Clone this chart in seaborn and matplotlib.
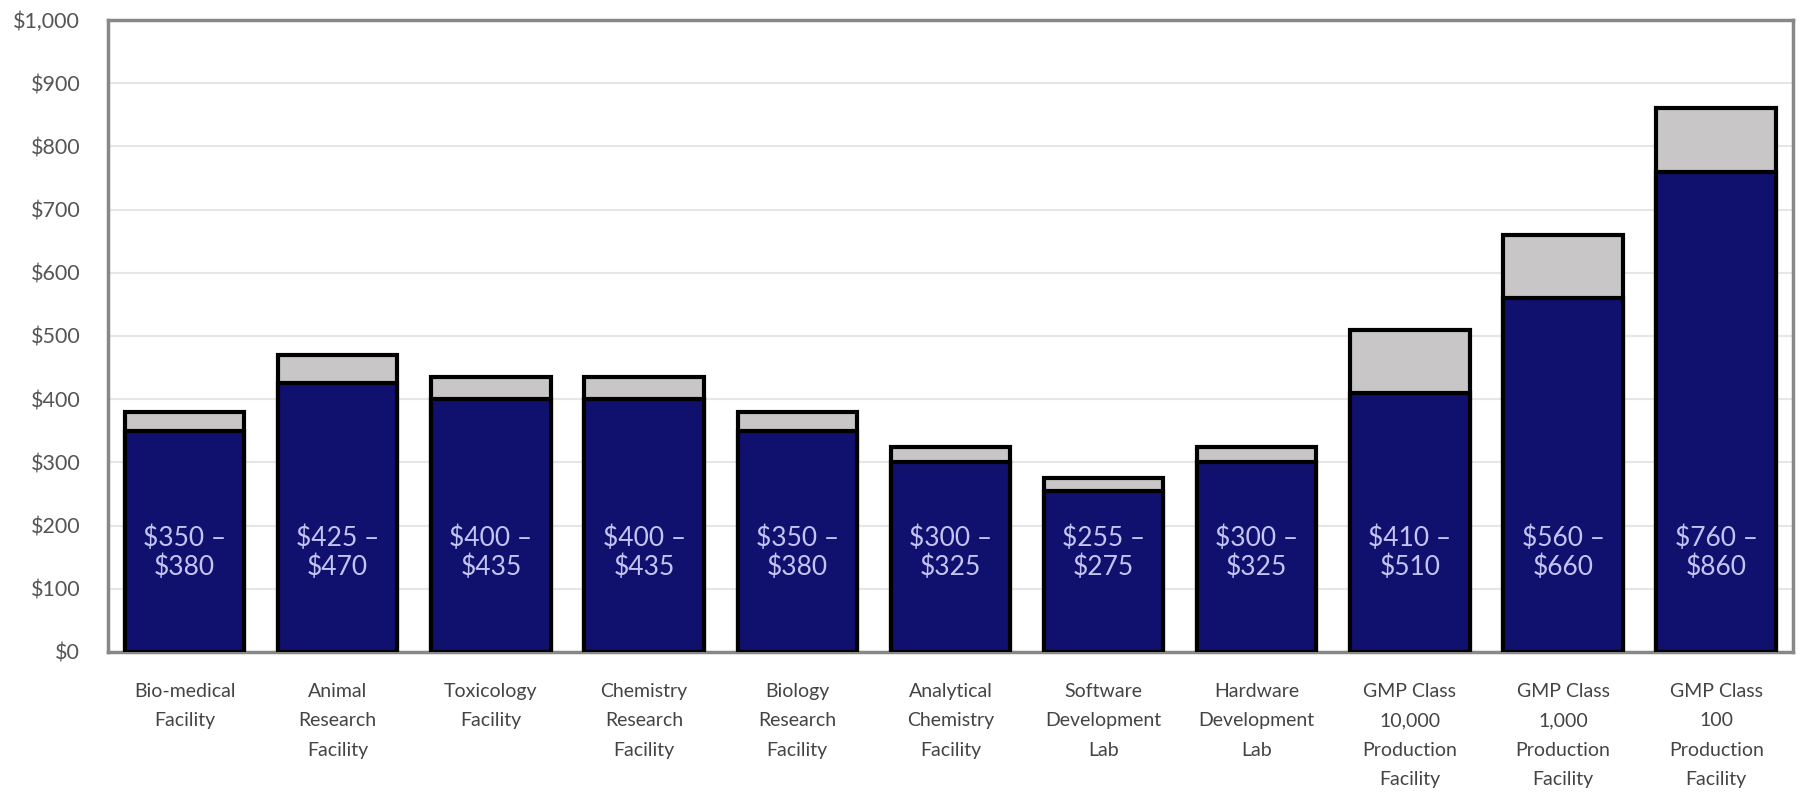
import matplotlib
matplotlib.use('Agg')
import matplotlib.pyplot as plt
import seaborn as sns
import pandas as pd
from matplotlib.ticker import FuncFormatter

# Cost ranges per square foot by facility type
facilities = [
    'Bio-medical\nFacility', 'Animal\nResearch\nFacility', 'Toxicology\nFacility',
    'Chemistry\nResearch\nFacility', 'Biology\nResearch\nFacility',
    'Analytical\nChemistry\nFacility', 'Software\nDevelopment\nLab',
    'Hardware\nDevelopment\nLab', 'GMP Class\n10,000\nProduction\nFacility',
    'GMP Class\n1,000\nProduction\nFacility', 'GMP Class\n100\nProduction\nFacility',
]
low_cost = [350, 425, 400, 400, 350, 300, 255, 300, 410, 560, 760]
high_cost = [380, 470, 435, 435, 380, 325, 275, 325, 510, 660, 860]

navy = '#10106e'
light_gray = '#c8c6c6'

sns.set_theme(style="white")
plt.rcParams['font.family'] = ['Lato', 'DejaVu Sans']

df = pd.DataFrame({'facility': facilities, 'low': low_cost, 'high': high_cost})

fig, ax = plt.subplots(figsize=(18, 7.99), dpi=100)
fig.subplots_adjust(left=0.06, right=0.996, top=0.975, bottom=0.184)

# full range in gray, then the low end in navy on top of it
sns.barplot(data=df, x='facility', y='high', color=light_gray, width=0.78,
            edgecolor='black', linewidth=3, saturation=1, ax=ax, zorder=2)
sns.barplot(data=df, x='facility', y='low', color=navy, width=0.78,
            edgecolor='black', linewidth=3, saturation=1, ax=ax, zorder=3)

for i, (lo, hi) in enumerate(zip(low_cost, high_cost)):
    ax.text(i, 157, f'${lo} –\n${hi}', ha='center', va='center', color='#c4c4f2',
            fontsize=19, linespacing=1.2, zorder=4)

ax.set_ylim(0, 1000)
ax.set_yticks(range(0, 1001, 100))
ax.yaxis.set_major_formatter(FuncFormatter(lambda v, _: f'${v:,.0f}'))
ax.grid(axis='y', color='#e6e6e6', linewidth=1.5, zorder=0)
ax.set_axisbelow(True)

ax.set_xlabel('')
ax.set_ylabel('')
ax.tick_params(axis='y', length=0, pad=20, labelsize=15.5, labelcolor='#555555')
ax.tick_params(axis='x', length=0, pad=22, labelsize=14, labelcolor='#444444')
for lbl in ax.get_xticklabels():
    lbl.set_linespacing(1.9)

for s in ax.spines.values():
    s.set_color('#888888')
    s.set_linewidth(2.5)

plt.savefig('out.png', dpi=100)
plt.close()
